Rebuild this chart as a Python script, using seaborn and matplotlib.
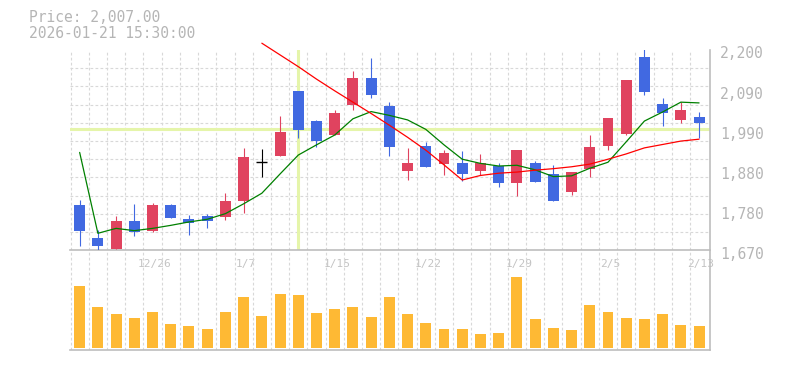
import numpy as np
import pandas as pd
import seaborn as sns
import matplotlib.pyplot as plt
from matplotlib.transforms import ScaledTranslation

# daily candles, 12/22 .. 2/13
dates = ["12/22", "12/23", "12/24", "12/25", "12/26", "12/29", "12/30",
         "1/5", "1/6", "1/7", "1/8", "1/9", "1/13", "1/14", "1/15", "1/16",
         "1/19", "1/20", "1/21", "1/22", "1/23", "1/26", "1/27", "1/28",
         "1/29", "1/30", "2/2", "2/3", "2/4", "2/5", "2/6", "2/9", "2/10",
         "2/12", "2/13"]
open_ = [1790, 1703, 1674, 1748, 1721, 1790, 1753, 1761, 1759, 1800, 1903, 1920,
         2091, 2012, 1975, 2055, 2126, 2052, 1881, 1946, 1899, 1901, 1881, 1893,
         1849, 1901, 1872, 1825, 1886, 1947, 1979, 2181, 2057, 2016, 2023]
high = [1803, 1724, 1761, 1793, 1795, 1793, 1764, 1766, 1822, 1941, 1938, 2025,
        2092, 2015, 2041, 2145, 2179, 2062, 1941, 1957, 1935, 1933, 1925, 1901,
        1935, 1906, 1896, 1877, 1975, 2020, 2121, 2202, 2073, 2062, 2036]
low = [1681, 1671, 1673, 1708, 1718, 1756, 1711, 1730, 1751, 1770, 1865, 1920,
       1968, 1944, 1975, 2040, 2074, 1920, 1857, 1891, 1870, 1854, 1870, 1838,
       1815, 1852, 1801, 1817, 1865, 1936, 1975, 2082, 2000, 2008, 1967]
close = [1721, 1682, 1748, 1718, 1790, 1756, 1741, 1748, 1800, 1917, 1903, 1983,
         1988, 1960, 2033, 2126, 2082, 1944, 1901, 1891, 1927, 1873, 1901, 1849,
         1935, 1852, 1801, 1877, 1943, 2020, 2121, 2090, 2032, 2041, 2007]
volume = [18600, 12300, 10200, 9000, 10800, 7200, 6600, 5700, 10800, 15300,
          9600, 16200, 15900, 10500, 11700, 12300, 9300, 15300, 10200, 7500,
          5700, 5700, 4200, 4500, 21300, 8700, 6000, 5400, 12900, 10800,
          9000, 8700, 10200, 6900, 6600]
ma_short = [1929, 1715, 1728, 1722, 1728, 1736, 1745, 1752, 1767, 1793, 1821,
            1872, 1922, 1949, 1975, 2018, 2037, 2027, 2015, 1990, 1949, 1911,
            1900, 1893, 1895, 1883, 1865, 1867, 1887, 1903, 1957, 2012, 2036,
            2062, 2060]
ma_long_start = 10
ma_long = [2218, 2187, 2156, 2123, 2092, 2062, 2032, 2001, 1969, 1935, 1896,
           1856, 1868, 1874, 1877, 1882, 1886, 1891, 1898, 1911, 1925, 1941,
           1950, 1959, 1964]

ytick_vals = [1670, 1776, 1882, 1988, 2094, 2200]
ytick_labels = ["1,670", "1,780", "1,880", "1,990", "2,090", "2,200"]
xtick_labels = ["12/26", "1/7", "1/15", "1/22", "1/29", "2/5", "2/13"]
cursor_date = "1/13"
cursor_price = 1990
header_time = "2026-01-21 15:30:00"

UP = "#e0435f"
DOWN = "#4169e1"
VOL = "#feb934"
GRID = "#d8d8d8"
AXIS = "#bdbdbd"
TXT = "#b5b5b5"
CROSS = "#e5f5aa"

df = pd.DataFrame({"date": dates, "open": open_, "high": high, "low": low,
                   "close": close, "volume": volume, "ma5": ma_short})
df["i"] = np.arange(len(df))
df["color"] = np.where(df.close > df.open, UP,
                       np.where(df.close < df.open, DOWN, "black"))

sns.set_theme(style="white")
plt.rcParams["font.family"] = ["DejaVu Sans Mono", "DejaVu Sans"]

W, H = 785, 370
fig = plt.figure(figsize=(W / 100, H / 100), dpi=100)


def box(l, t, r, b):
    return [l / W, 1 - b / H, (r - l) / W, (b - t) / H]


ax = fig.add_axes(box(70, 50, 710, 250.3))
axv = fig.add_axes(box(70, 251, 710, 350.3))
axv.set_facecolor("none")

# --- price panel
cur = dates.index(cursor_date)
ax.axvline(cur, color=CROSS, lw=2.2, zorder=1)
ax.axhline(cursor_price, color=CROSS, lw=2.2, zorder=1)

ax.vlines(df.i, df.low, df.high, colors=df.color, lw=0.8, zorder=3)
body = df[df.open != df.close]
ax.bar(body.i, (body.close - body.open).abs(), bottom=body[["open", "close"]].min(axis=1),
       width=0.6, color=body.color, zorder=4, linewidth=0)
doji = df[df.open == df.close]
ax.hlines(doji.close, doji.i - 0.3, doji.i + 0.3, colors="black", lw=1.0, zorder=4)

sns.lineplot(x=df.i, y=df.ma5, color="#008000", lw=0.9, ax=ax, zorder=5)
sns.lineplot(x=df.i[ma_long_start:], y=ma_long, color="#ff0000", lw=0.9, ax=ax,
             zorder=5, clip_on=False)

ax.set_xlim(-0.53, 34.6)
ax.set_ylim(1670, 2200)
ax.set_xlabel("")
ax.set_ylabel("")
ax.set_xticks(np.arange(-0.5, len(dates) - 0.5, 1), minor=True)
ax.set_yticks(np.linspace(1670, 2200, 12), minor=True)
ax.grid(which="minor", color=GRID, lw=0.8, linestyle=(0, (2.5, 2)))
ax.grid(which="major", visible=False)
ax.set_axisbelow(True)

ax.yaxis.tick_right()
ax.set_yticks(ytick_vals, ytick_labels)
ax.set_xticks([dates.index(d) for d in xtick_labels], xtick_labels)
ax.tick_params(axis="y", which="both", length=0, pad=7, labelsize=10.5, labelcolor=TXT)
ax.tick_params(axis="x", which="both", length=0, pad=6, labelsize=8, labelcolor="#c4c4c4")
for lbl in ax.get_yticklabels():
    lbl.set_transform(lbl.get_transform() + ScaledTranslation(0, -0.025, fig.dpi_scale_trans))
for lbl in ax.get_xticklabels():
    lbl.set_transform(lbl.get_transform() + ScaledTranslation(0.02, 0, fig.dpi_scale_trans))

for side in ["left", "top"]:
    ax.spines[side].set_visible(False)
for side in ["bottom", "right"]:
    ax.spines[side].set_color(AXIS)
    ax.spines[side].set_linewidth(1.2)

# --- volume panel
sns.barplot(x=df.i, y=df.volume, color=VOL, saturation=1, width=0.6,
            native_scale=True, errorbar=None, ax=axv, linewidth=0)
axv.set_xlim(-0.53, 34.6)
axv.set_ylim(-700, 29200)
axv.set_xlabel("")
axv.set_ylabel("")
axv.set_xticks(np.arange(-0.5, len(dates) - 0.5, 1))
axv.set_xticklabels([])
axv.set_yticks([])
axv.tick_params(length=0)
axv.grid(axis="x", color=GRID, lw=0.8, linestyle=(0, (2.5, 2)))
axv.set_axisbelow(True)
for side in ["left", "top"]:
    axv.spines[side].set_visible(False)
for side in ["bottom", "right"]:
    axv.spines[side].set_color(AXIS)
    axv.spines[side].set_linewidth(1.2)

# header
fig.text(29 / W, 1 - 18 / H, f"Price: {close[-1]:,.2f}", fontsize=10.5,
         color=TXT, va="center", ha="left")
fig.text(29 / W, 1 - 33 / H, header_time, fontsize=10.5,
         color=TXT, va="center", ha="left")

fig.savefig("out.png", dpi=100)
